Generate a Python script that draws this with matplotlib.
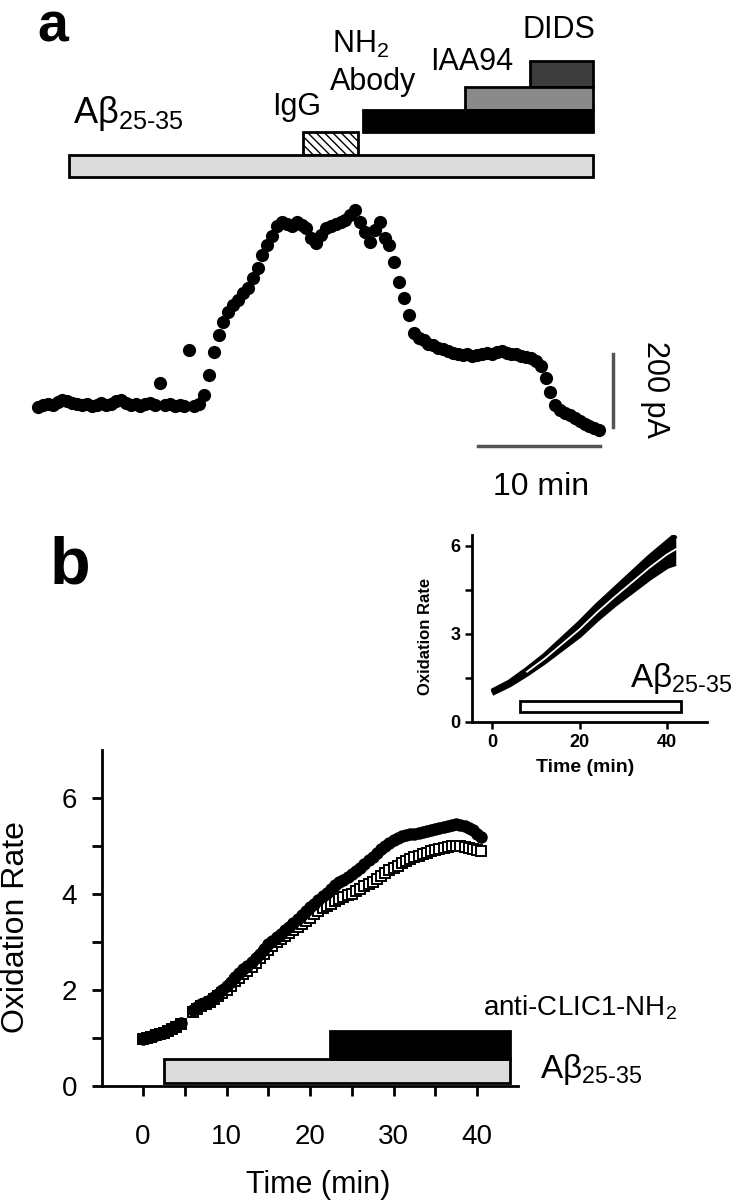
import numpy as np
import matplotlib
matplotlib.use('Agg')
import matplotlib.pyplot as plt
from matplotlib.patches import Rectangle

plt.rcParams['font.family'] = ['Liberation Sans', 'DejaVu Sans']
plt.rcParams['mathtext.fontset'] = 'custom'
plt.rcParams['mathtext.rm'] = 'Liberation Sans'
plt.rcParams['hatch.linewidth'] = 1.0

# ---- panel a : current trace (pA), one point every 0.4 min ----
trace_t = np.arange(0, 46.01, 0.4)
trace_pA = [0, 5, 8, 5, 14, 19, 16, 11, 8, 5,
            8, 3, 5, 11, 5, 8, 16, 19, 11, 5,
            8, 3, 8, 11, 5, 66, 5, 8, 3, 5,
            3, 156, 3, 8, 33, 88, 151, 197, 233, 260,
            279, 293, 312, 326, 353, 381, 416, 444, 468, 496,
            507, 501, 496, 507, 499, 490, 463, 449, 471, 490,
            496, 501, 507, 512, 526, 540, 507, 479, 452, 485,
            507, 463, 444, 397, 342, 299, 252, 203, 189, 184,
            173, 170, 162, 159, 153, 148, 145, 142, 145, 140,
            142, 145, 148, 145, 151, 153, 148, 145, 145, 140,
            137, 134, 126, 112, 79, 41, 5, -8, -16, -22,
            -30, -38, -47, -52, -58, -63]

# application protocol (min)
drug_on = [2.5, 21.7, 26.6, 35.0, 40.3]
drug_off = [45.5, 26.2, 45.5, 45.5, 45.5]

# ---- panel b : oxidation rate ----
b_t = np.r_[np.arange(0, 4.6, 0.5), np.arange(6.0, 40.6, 0.5)]
ox_black = [0.98, 1.02, 1.04, 1.07, 1.10, 1.12, 1.16, 1.20, 1.25, 1.32,
            1.58, 1.65, 1.70, 1.75, 1.80, 1.85, 1.92, 2.00, 2.08, 2.17,
            2.27, 2.36, 2.43, 2.50, 2.58, 2.66, 2.75, 2.85, 2.95, 3.02,
            3.10, 3.17, 3.24, 3.32, 3.40, 3.48, 3.56, 3.64, 3.72, 3.80,
            3.88, 3.96, 4.03, 4.10, 4.18, 4.24, 4.30, 4.36, 4.42, 4.48,
            4.55, 4.62, 4.70, 4.78, 4.86, 4.94, 5.00, 5.06, 5.12, 5.17,
            5.20, 5.22, 5.24, 5.26, 5.28, 5.30, 5.32, 5.34, 5.36, 5.38,
            5.40, 5.42, 5.44, 5.45, 5.44, 5.42, 5.38, 5.33, 5.25, 5.18]
ox_open = [0.97, 1.00, 1.03, 1.06, 1.08, 1.11, 1.14, 1.18, 1.23, 1.29,
           1.55, 1.61, 1.66, 1.71, 1.76, 1.81, 1.87, 1.94, 2.01, 2.09,
           2.18, 2.26, 2.33, 2.40, 2.48, 2.56, 2.66, 2.75, 2.84, 2.92,
           3.00, 3.06, 3.12, 3.18, 3.24, 3.31, 3.37, 3.44, 3.51, 3.58,
           3.64, 3.70, 3.75, 3.80, 3.85, 3.89, 3.93, 3.97, 4.01, 4.06,
           4.11, 4.16, 4.21, 4.26, 4.31, 4.37, 4.43, 4.49, 4.54, 4.59,
           4.64, 4.69, 4.73, 4.77, 4.80, 4.83, 4.86, 4.89, 4.91, 4.94,
           4.96, 4.98, 4.99, 5.00, 4.99, 4.97, 4.95, 4.93, 4.91, 4.89]
abeta_b = (2.5, 43.9)
clic_b = (22.4, 43.9)

# inset
ins_t = [0, 4, 8, 12, 16, 20, 24, 28, 32, 36, 40, 42]
ins_up = [1.04, 1.35, 1.78, 2.25, 2.80, 3.35, 3.95, 4.50, 5.05, 5.60, 6.10, 6.35]
ins_lo = [0.98, 1.27, 1.64, 2.05, 2.50, 2.95, 3.50, 4.00, 4.45, 4.90, 5.30, 5.40]
abeta_ins = (6.4, 43.2)

ABETA = 'Aβ$_{\\mathregular{25\u201035}}$'

W, H = 746, 1200
def box(l, t, r, b):
    # pixel box -> figure fraction
    return [l / W, 1 - b / H, (r - l) / W, (b - t) / H]

fig = plt.figure(figsize=(7.46, 12), dpi=100)

# ================= panel a =================
ax_bar = fig.add_axes(box(30, 0, 660, 195))
ax_bar.set_xlim(-0.656, 50.98)
ax_bar.set_ylim(-0.8, 7.867)
ax_bar.axis('off')

rows = [(0, 0.98), (0.98, 2.0), (2.0, 2.98), (2.98, 4.0), (4.0, 5.16)]
faces = ['#dcdcdc', 'white', 'black', '#8a8a8a', '#3c3c3c']
hatches = [None, '\\\\\\\\', None, None, None]
for i in range(5):
    y0, y1 = rows[i]
    ax_bar.add_patch(Rectangle((drug_on[i], y0), drug_off[i] - drug_on[i], y1 - y0,
                               facecolor=faces[i], edgecolor='black', lw=2,
                               hatch=hatches[i], zorder=5 - i))

fs = 22
ax_bar.text(2.87, 2.4, ABETA, fontsize=26, va='baseline')
ax_bar.text(19.2, 2.76, 'IgG', fontsize=fs, va='baseline')
ax_bar.text(24.1, 5.51, 'NH$_{\\mathregular{2}}$', fontsize=fs, va='baseline')
ax_bar.text(23.9, 3.87, 'Abody', fontsize=fs, va='baseline')
ax_bar.text(32.1, 4.76, 'IAA94', fontsize=fs, va='baseline')
ax_bar.text(39.7, 6.18, 'DIDS', fontsize=fs, va='baseline')

ax_tr = fig.add_axes(box(30, 195, 660, 510))
ax_tr.set_xlim(-0.656, 50.98)
ax_tr.set_ylim(-282.2, 580.8)
ax_tr.axis('off')
ax_tr.plot(trace_t, trace_pA, 'o', color='black', ms=9.5, mew=0)
# scale bars
ax_tr.plot([47.13, 47.13], [-55, 145], color='#555555', lw=2.5)
ax_tr.plot([36.1, 46.1], [-106.8, -106.8], color='#555555', lw=2.5)
ax_tr.text(41.2, -241, '10 min', fontsize=23, ha='center', va='baseline')
ax_tr.text(50.6, 47, '200 pA', fontsize=22, rotation=270, ha='center', va='center')

fig.text(37 / W, 1 - 41 / H, 'a', fontsize=40, fontweight='bold', va='baseline')
fig.text(50 / W, 1 - 583 / H, 'b', fontsize=48, fontweight='bold', va='baseline')

# ================= panel b main =================
ax = fig.add_axes(box(102, 750, 518, 1086))
ax.set_xlim(-4.91, 44.9)
ax.set_ylim(0, 7.0)
for s in ['top', 'right']:
    ax.spines[s].set_visible(False)
for s in ['left', 'bottom']:
    ax.spines[s].set_linewidth(2)
ax.set_xticks([0, 10, 20, 30, 40])
ax.set_xticks([5, 15, 25, 35], minor=True)
ax.set_yticks([0, 2, 4, 6])
ax.set_yticks([1, 3, 5], minor=True)
ax.tick_params(axis='x', which='both', direction='out', length=7, width=2,
               labelsize=20, pad=20)
ax.tick_params(axis='y', which='both', direction='out', length=7, width=2,
               labelsize=20, pad=11)

ax.add_patch(Rectangle((abeta_b[0], 0.06), abeta_b[1] - abeta_b[0], 0.5,
                       facecolor='#dcdcdc', edgecolor='black', lw=2, zorder=2))
ax.add_patch(Rectangle((clic_b[0], 0.56), clic_b[1] - clic_b[0], 0.59,
                       facecolor='black', edgecolor='black', lw=2, zorder=2))
ax.plot(b_t, ox_open, 's', mfc='white', mec='black', mew=1.4, ms=7, zorder=3)
ax.plot(b_t, ox_black, 'o', color='black', ms=9, mew=0, zorder=4)

ax.text(40.7, 1.48, 'anti-CLIC1-NH$_{\\mathregular{2}}$', fontsize=20, va='baseline',
        clip_on=False)
ax.text(47.5, 0.17, ABETA, fontsize=24, va='baseline', clip_on=False)
fig.text(16 / W, 1 - 927 / H, 'Oxidation Rate', fontsize=23, rotation=90,
         ha='center', va='center')
fig.text(318 / W, 1 - 1193 / H, 'Time (min)', fontsize=22, ha='center',
         va='baseline')

# ================= inset =================
ai = fig.add_axes(box(472, 535, 707, 722))
ai.set_xlim(-4.57, 49.14)
ai.set_ylim(0, 6.36)
for s in ['top', 'right']:
    ai.spines[s].set_visible(False)
for s in ['left', 'bottom']:
    ai.spines[s].set_linewidth(2)
ai.set_xticks([0, 20, 40])
ai.set_yticks([0, 1.5, 3, 4.5, 6])
ai.set_yticklabels(['0', '', '3', '', '6'])
ai.tick_params(direction='out', length=5, width=1.8, labelsize=13)
for lab in ai.get_xticklabels() + ai.get_yticklabels():
    lab.set_fontweight('bold')

ins_mid = (np.array(ins_up) + np.array(ins_lo)) / 2
ai.fill_between(ins_t, ins_lo, ins_up, color='black', lw=0)
ai.plot(ins_t, ins_up, color='black', lw=4, solid_capstyle='butt')
ai.plot(ins_t, ins_lo, color='black', lw=4, solid_capstyle='butt')
ai.plot(ins_t[2:], ins_mid[2:], color='white', lw=1.3)
ai.add_patch(Rectangle((abeta_ins[0], 0.35), abeta_ins[1] - abeta_ins[0], 0.37,
                       facecolor='white', edgecolor='black', lw=2))
ai.text(31.5, 1.19, ABETA, fontsize=24, va='baseline', clip_on=False)
fig.text(425 / W, 1 - 636 / H, 'Oxidation Rate', fontsize=12, fontweight='bold',
         rotation=90, ha='center', va='center')
fig.text(585 / W, 1 - 772 / H, 'Time (min)', fontsize=14, fontweight='bold',
         ha='center', va='baseline')

fig.savefig('out.png', dpi=100)
